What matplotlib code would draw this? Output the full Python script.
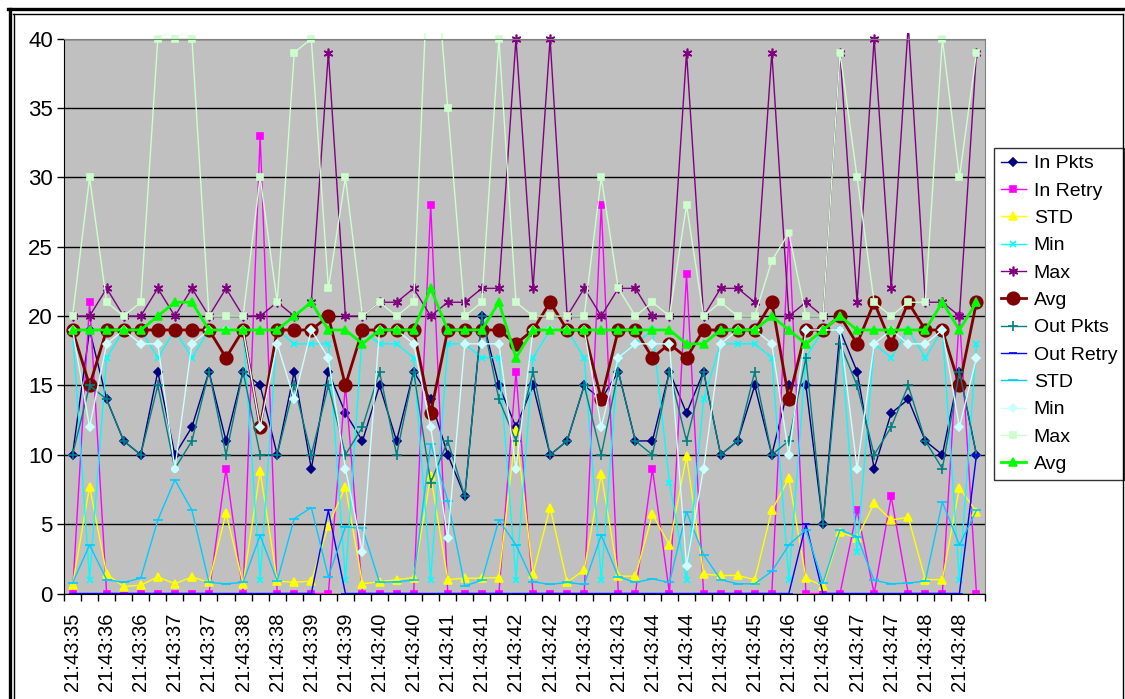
import numpy as np
import matplotlib
matplotlib.use("Agg")
import matplotlib.pyplot as plt
from matplotlib.lines import Line2D
from matplotlib.transforms import Bbox, TransformedBbox

plt.rcParams['font.family'] = ['Liberation Sans', 'DejaVu Sans']

# etiquetas del eje x (una cada dos muestras)
tick_labels = ['21:43:35', '21:43:36', '21:43:36', '21:43:37', '21:43:37', '21:43:38',
               '21:43:38', '21:43:39', '21:43:39', '21:43:40', '21:43:40', '21:43:41',
               '21:43:41', '21:43:42', '21:43:42', '21:43:43', '21:43:43', '21:43:44',
               '21:43:44', '21:43:45', '21:43:45', '21:43:46', '21:43:46', '21:43:47',
               '21:43:47', '21:43:48', '21:43:48']

in_pkts = [10, 19, 14, 11, 10, 16, 10, 12, 16, 11, 16, 15, 10, 16, 9, 16, 13, 11, 15, 11,
           16, 14, 10, 7, 20, 15, 12, 15, 10, 11, 15, 14, 16, 11, 11, 16, 13, 16, 10, 11,
           15, 10, 15, 15, 5, 19, 16, 9, 13, 14, 11, 10, 16, 10]
in_retry = [0, 21, 0, 0, 0, 0, 0, 0, 0, 9, 0, 33, 0, 0, 0, 0, 15, 0, 0, 0,
            0, 28, 0, 0, 0, 0, 16, 0, 0, 0, 0, 28, 0, 0, 9, 0, 23, 0, 0, 0,
            0, 0, 26, 0, 0, 0, 6, 0, 7, 0, 0, 0, 20, 0]
std_in = [0.6, 7.7, 1.4, 0.5, 0.6, 1.2, 0.7, 1.2, 0.8, 5.8, 0.7, 8.8, 0.9, 0.8, 0.9, 4.9,
          7.7, 0.7, 0.85, 1.0, 1.15, 8.5, 1.0, 1.1, 1.1, 1.15, 11.8, 1.4, 6.2, 0.8, 1.7,
          8.6, 1.25, 1.25, 5.7, 3.5, 9.9, 1.4, 1.3, 1.3, 1.0, 6.0, 8.3, 1.1, 0.55, 4.4,
          4.0, 6.5, 5.3, 5.5, 1.0, 1.0, 7.6, 5.9]
min_in = [19, 1, 17, 19, 19, 17, 19, 17, 19, 19, 19, 1, 19, 18, 18, 18, 1, 19, 18, 18,
          17, 1, 18, 18, 17, 17, 1, 17, 19, 19, 17, 1, 17, 18, 19, 8, 1, 14, 18, 18,
          18, 17, 1, 17, 19, 19, 3, 18, 17, 19, 17, 19, 1, 18]
max_in = [20, 20, 22, 20, 20, 22, 20, 22, 20, 22, 20, 20, 21, 20, 21, 39, 20, 20, 21, 21,
          22, 20, 21, 21, 22, 22, 40, 22, 40, 20, 22, 20, 22, 22, 20, 20, 39, 20, 22, 22,
          21, 39, 20, 21, 20, 39, 21, 40, 22, 41, 21, 21, 20, 39]
avg_in = [19, 15, 19, 19, 19, 19, 19, 19, 19, 17, 19, 12, 19, 19, 19, 20, 15, 19, 19, 19,
          19, 13, 19, 19, 19, 19, 18, 19, 21, 19, 19, 14, 19, 19, 17, 18, 17, 19, 19, 19,
          19, 21, 14, 19, 19, 20, 18, 21, 18, 21, 19, 19, 15, 21]
out_pkts = [10, 15, 14, 11, 10, 15, 9, 11, 16, 10, 16, 10, 10, 15, 10, 15, 10, 12, 16, 10,
            16, 8, 11, 7, 20, 14, 11, 16, 10, 11, 15, 10, 16, 11, 10, 16, 11, 16, 10, 11,
            16, 10, 11, 17, 5, 18, 15, 10, 12, 15, 11, 9, 16, 10]
out_retry = [0, 0, 0, 0, 0, 0, 0, 0, 0, 0, 0, 0, 0, 0, 0, 6, 0, 0, 0, 0,
             0, 0, 0, 0, 0, 0, 0, 0, 0, 0, 0, 0, 0, 0, 0, 0, 0, 0, 0, 0,
             0, 0, 0, 5, 0, 0, 0, 0, 0, 0, 0, 0, 0, 10]
std_out = [0.75, 3.5, 1.0, 0.8, 1.1, 5.3, 8.2, 6.0, 0.8, 0.7, 0.8, 4.2, 0.9, 5.4, 6.2, 1.2,
           4.8, 4.7, 0.8, 0.85, 0.95, 10.8, 6.7, 0.55, 0.95, 5.3, 3.5, 0.85, 0.65, 0.8,
           0.65, 4.2, 1.2, 0.8, 1.05, 0.8, 5.9, 2.8, 1.0, 0.7, 0.7, 1.6, 3.5, 4.6, 0.75,
           4.6, 4.1, 0.95, 0.7, 0.75, 0.9, 6.6, 3.5, 6.0]
min_out = [19, 12, 18, 19, 18, 18, 9, 18, 19, 19, 19, 12, 18, 14, 19, 17, 9, 3, 19, 19,
           18, 12, 4, 18, 18, 18, 9, 19, 19, 19, 19, 12, 17, 18, 18, 18, 2, 9, 18, 19,
           19, 18, 10, 19, 19, 19, 9, 18, 19, 18, 18, 19, 12, 17]
max_out = [20, 30, 21, 20, 21, 40, 40, 40, 20, 20, 20, 30, 21, 39, 40, 22, 30, 20, 21, 20,
           21, 50, 35, 20, 21, 40, 21, 20, 20, 20, 20, 30, 22, 20, 21, 20, 28, 20, 21, 20,
           20, 24, 26, 20, 20, 39, 30, 21, 20, 21, 21, 40, 30, 39]
avg_out = [19, 19, 19, 19, 19, 20, 21, 21, 19, 19, 19, 19, 19, 20, 21, 19, 19, 18, 19, 19,
           19, 22, 19, 19, 19, 21, 17, 19, 19, 19, 19, 19, 19, 19, 19, 19, 18, 18, 19, 19,
           19, 20, 19, 18, 19, 20, 19, 19, 19, 19, 19, 21, 19, 21]

# (nombre, datos, color, marcador, tamano, grosor)
series = [
    ('In Pkts', in_pkts, '#000080', 'D', 4, 1.0),
    ('In Retry', in_retry, '#FF00FF', 's', 5, 1.0),
    ('STD', std_in, '#FFFF00', '^', 6, 1.0),
    ('Min', min_in, '#00FFFF', 'x', 5, 1.0),
    ('Max', max_in, '#800080', (6, 2, 0), 7, 1.0),
    ('Avg', avg_in, '#800000', 'o', 9, 2.0),
    ('Out Pkts', out_pkts, '#008080', '+', 7, 1.0),
    ('Out Retry', out_retry, '#0000FF', '_', 6, 1.0),
    ('STD', std_out, '#00CCFF', '_', 7, 1.0),
    ('Min', min_out, '#CCFFFF', 'D', 4, 1.0),
    ('Max', max_out, '#CCFFCC', 's', 5, 1.0),
    ('Avg', avg_out, '#00FF00', '^', 6, 2.0),
]

W, H = 1125, 699
fig = plt.figure(figsize=(W / 100, H / 100), dpi=100)
ax = fig.add_axes([64 / W, 1 - 593.5 / H, (985 - 64) / W, (593.5 - 38.7) / H])
ax.set_facecolor('#C0C0C0')

x = np.arange(len(in_pkts))
# deja que los valores por encima de 40 asomen un poco sobre el area
clip = TransformedBbox(Bbox([[0, 0], [1, 1.01]]), ax.transAxes)
for name, vals, col, mk, ms, lw in series:
    ln, = ax.plot(x, vals, color=col, lw=lw, marker=mk, markersize=ms,
                  markerfacecolor=col, markeredgecolor=col, markeredgewidth=1.2,
                  label=name)
    ln.set_clip_box(clip)

ax.set_xlim(-0.5, len(x) - 0.5)
ax.set_ylim(0, 40)
ax.set_yticks(np.arange(0, 41, 5))
ax.yaxis.grid(True, color='black', lw=1)
ax.set_axisbelow(True)
ax.tick_params(axis='y', length=5, width=1, pad=3, labelsize=16)

ax.set_xticks(x[::2])
ax.set_xticklabels(tick_labels, rotation=90, fontsize=14.5)
ax.set_xticks(np.arange(-0.5, len(x), 1), minor=True)
ax.tick_params(axis='x', which='major', length=0, pad=14)
ax.tick_params(axis='x', which='minor', length=5, width=1)

for s in ['top', 'right']:
    ax.spines[s].set_color('#808080')
for s in ['left', 'bottom']:
    ax.spines[s].set_color('black')

leg = ax.legend(loc='upper left', bbox_to_anchor=(994 / W, 1 - 148 / H),
                bbox_transform=fig.transFigure, fontsize=14, frameon=True,
                fancybox=False, edgecolor='black', handlelength=1.3,
                handletextpad=0.4, labelspacing=0.5, borderpad=0.35,
                borderaxespad=0, shadow=False)
leg.get_frame().set_linewidth(1)

# marco del area del grafico
fig.add_artist(Line2D([8 / W, 1123 / W], [1 - 9 / H, 1 - 9 / H], color='black', lw=2.4))
fig.add_artist(Line2D([9.5 / W, 9.5 / W], [0, 1 - 9 / H], color='black', lw=2.4))
fig.add_artist(Line2D([13 / W, 1123 / W], [1 - 13.5 / H, 1 - 13.5 / H], color='black', lw=1))
fig.add_artist(Line2D([13.5 / W, 13.5 / W], [0, 1 - 13.5 / H], color='black', lw=1))
fig.add_artist(Line2D([1122.5 / W, 1122.5 / W], [0, 1 - 13.5 / H], color='black', lw=1))

fig.savefig('out.png', dpi=100)
